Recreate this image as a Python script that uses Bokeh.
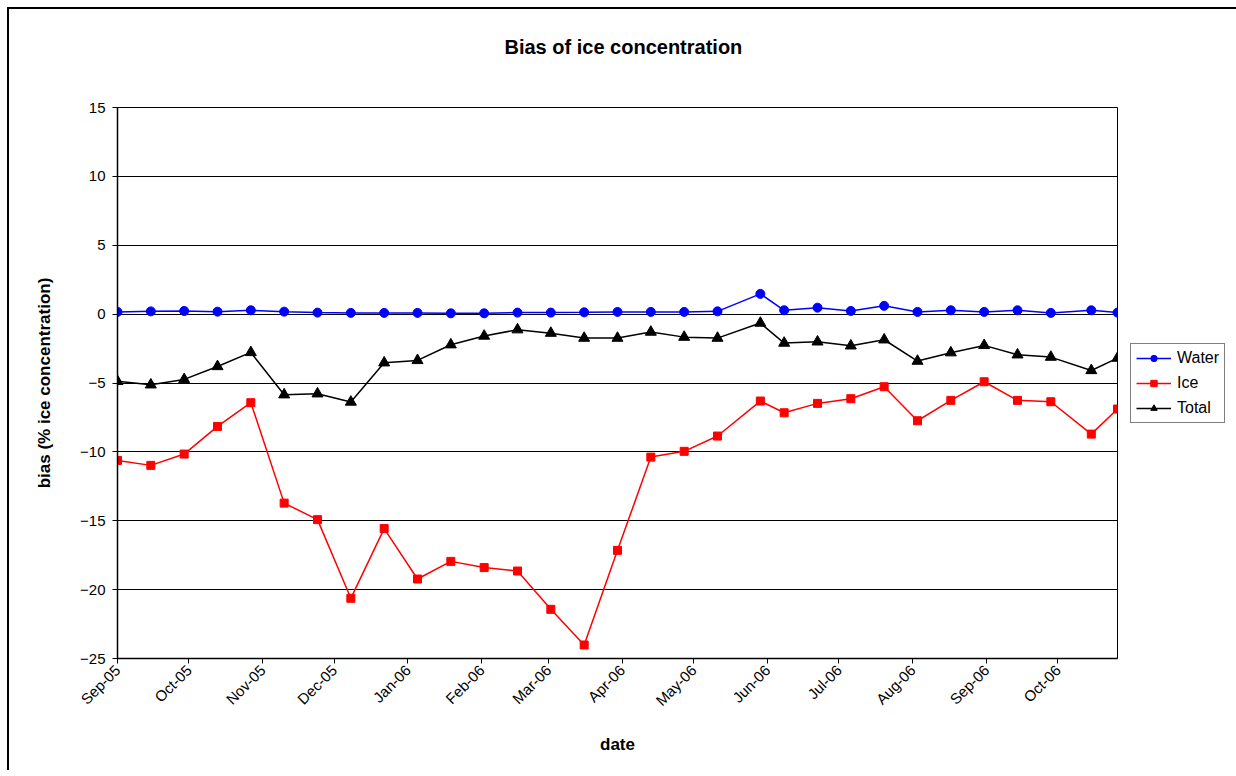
import pandas as pd
from bokeh.plotting import figure
from bokeh.models import (Range1d, FixedTicker, DatetimeTickFormatter, Legend,
                          LegendItem, Title)
from bokeh.embed import file_html
from bokeh.resources import INLINE

dates = ["2005-09-01", "2005-09-15", "2005-09-29", "2005-10-13", "2005-10-27",
         "2005-11-10", "2005-11-24", "2005-12-08", "2005-12-22", "2006-01-05",
         "2006-01-19", "2006-02-02", "2006-02-16", "2006-03-02", "2006-03-16",
         "2006-03-30", "2006-04-13", "2006-04-27", "2006-05-11", "2006-05-29",
         "2006-06-08", "2006-06-22", "2006-07-06", "2006-07-20", "2006-08-03",
         "2006-08-17", "2006-08-31", "2006-09-14", "2006-09-28", "2006-10-15",
         "2006-10-26"]

water = [0.16, 0.20, 0.23, 0.18, 0.28, 0.18, 0.11, 0.09, 0.09, 0.09, 0.06,
         0.06, 0.11, 0.11, 0.13, 0.16, 0.16, 0.16, 0.20, 1.47, 0.28,
         0.47, 0.23, 0.60, 0.16, 0.28, 0.16, 0.28, 0.09, 0.28, 0.11]

ice = [-10.62, -10.98, -10.16, -8.15, -6.43, -13.72, -14.92, -20.63, -15.57, -19.23, -17.95,
       -18.40, -18.65, -21.43, -24.02, -17.15, -10.38, -9.96, -8.85, -6.31, -7.16,
       -6.48, -6.14, -5.27, -7.74, -6.26, -4.91, -6.26, -6.36, -8.71, -6.89]

total = [-4.88, -5.13, -4.74, -3.80, -2.78, -5.85, -5.78, -6.38, -3.53, -3.36, -2.22,
         -1.59, -1.13, -1.38, -1.74, -1.74, -1.30, -1.67, -1.74, -0.65, -2.10,
         -2.01, -2.30, -1.86, -3.41, -2.80, -2.27, -2.95, -3.12, -4.09, -3.19]

month_ticks = ["2005-09-01", "2005-10-01", "2005-11-01", "2005-12-01", "2006-01-01",
               "2006-02-01", "2006-03-01", "2006-04-01", "2006-05-01", "2006-06-01",
               "2006-07-01", "2006-08-01", "2006-09-01", "2006-10-01"]
y_ticks = [-25, -20, -15, -10, -5, 0, 5, 10, 15]

title_text = "Bias of ice concentration"
series_names = ["Water", "Ice", "Total"]

FONT = "Liberation Sans"

x = pd.to_datetime(dates)
tick_ms = [int(t) for t in (pd.to_datetime(month_ticks).astype("int64") // 10**6)]

p = figure(frame_width=1000, frame_height=551, x_axis_type="datetime",
           output_backend="svg", toolbar_location=None, title=None,
           x_range=Range1d(x[0], x[-1]), y_range=Range1d(-25, 15),
           min_border_left=108, min_border_right=119,
           min_border_top=98, min_border_bottom=112)

# outer chart-area border (only top and left edges are visible in the reference)
p.styles = {"margin-left": "7px", "margin-top": "7px",
            "border-top": "2px solid black", "border-left": "2px solid black"}

p.border_fill_color = "white"
p.background_fill_color = "white"
p.outline_line_color = "black"
p.outline_line_width = 1
p.outline_line_alpha = 1

# title: an empty spacer next to the frame, then the real title above it
spacer = Title(text=" ", text_font_size="1px", standoff=47)
p.add_layout(spacer, "above")
main_title = Title(text=title_text, align="left", offset=387, text_font=FONT,
                   text_font_style="bold", text_font_size="20px",
                   text_color="black", standoff=0)
p.add_layout(main_title, "above")

# grid
p.xgrid.visible = False
p.ygrid.ticker = FixedTicker(ticks=y_ticks)
p.ygrid.grid_line_color = "black"
p.ygrid.grid_line_width = 1

# axes
p.yaxis.ticker = FixedTicker(ticks=y_ticks)
p.xaxis.ticker = FixedTicker(ticks=tick_ms)
fmt = "%b-%y"
p.xaxis.formatter = DatetimeTickFormatter(
    microseconds=fmt, milliseconds=fmt, seconds=fmt, minsec=fmt, minutes=fmt,
    hourmin=fmt, hours=fmt, days=fmt, months=fmt, years=fmt)
p.xaxis.major_label_orientation = 0.785398
for ax in (p.xaxis[0], p.yaxis[0]):
    ax.axis_line_color = "black"
    ax.axis_line_width = 1.5
    ax.major_tick_line_color = "black"
    ax.major_tick_out = 5
    ax.major_tick_in = 0
    ax.minor_tick_out = 0
    ax.minor_tick_in = 0
    ax.major_label_text_font = FONT
    ax.major_label_text_font_size = "15px"
    ax.major_label_text_color = "black"
    ax.axis_label_text_font = FONT
    ax.axis_label_text_font_style = "bold"
    ax.axis_label_text_font_size = "17px"
    ax.axis_label_text_color = "black"

p.xaxis.axis_label = "date"
p.yaxis.axis_label = "bias (% ice concentration)"
p.yaxis.axis_label_standoff = 23
p.xaxis.axis_label_standoff = 17
p.xaxis.major_label_standoff = 4
p.yaxis.major_label_standoff = 7

# series
lw = p.line(x, water, line_color="#0000FF", line_width=1.5)
sw = p.scatter(x, water, marker="circle", size=9, fill_color="#0000FF", line_color="#0000FF")
li = p.line(x, ice, line_color="#FF0000", line_width=1.5)
si = p.scatter(x, ice, marker="square", size=8, fill_color="#FF0000", line_color="#FF0000")
lt = p.line(x, total, line_color="#000000", line_width=1.5)
st = p.scatter(x, total, marker="triangle", size=11, fill_color="#000000", line_color="#000000")

legend = Legend(items=[LegendItem(label=series_names[0], renderers=[lw, sw]),
                       LegendItem(label=series_names[1], renderers=[li, si]),
                       LegendItem(label=series_names[2], renderers=[lt, st])],
                location="center_left")
legend.border_line_color = "black"
legend.border_line_width = 1
legend.background_fill_color = "white"
legend.background_fill_alpha = 1
legend.label_text_font = FONT
legend.label_text_font_size = "16px"
legend.label_text_color = "black"
legend.glyph_width = 35
legend.glyph_height = 16
legend.label_height = 16
legend.label_standoff = 6
legend.spacing = 7
legend.padding = 5
legend.margin = 13
p.add_layout(legend, "right")

open("out.html", "w").write(file_html(p, INLINE))
